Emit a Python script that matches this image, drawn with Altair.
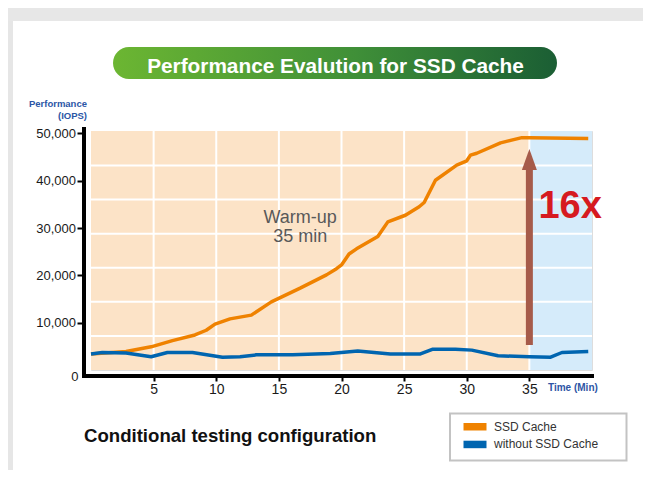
import altair as alt
import pandas as pd

# ---------------- data ----------------
ssd_time = [0, 2.8, 4.8, 6.5, 8.3, 9.2, 9.9, 11.1, 12.8, 14.4, 16.7, 18.8, 19.6, 20.0,
            20.6, 21.2, 22.9, 23.7, 25.1, 26.2, 26.6, 27.5, 29.2, 30.0, 30.3, 30.8,
            32.7, 34.4, 35.0, 39.7]
ssd_iops = [3400, 3900, 4900, 6200, 7400, 8400, 9700, 10800, 11600, 14400, 17300, 20100,
            21400, 22200, 24500, 25600, 28200, 31300, 32700, 34500, 35400, 40100, 43300,
            44200, 45400, 45800, 48000, 49100, 49100, 48900]

base_time = [0, 0.9, 2.8, 4.8, 6.1, 8.1, 10.5, 11.9, 13.2, 16.1, 19.1, 21.3, 23.9, 26.3,
             27.3, 29.1, 30.4, 32.5, 35.0, 36.7, 37.6, 39.7]
base_iops = [3400, 3700, 3600, 2800, 3700, 3700, 2700, 2800, 3200, 3200, 3500, 4000, 3400,
             3400, 4400, 4400, 4200, 3000, 2800, 2700, 3700, 3900]

series_names = ["SSD Cache", "without SSD Cache"]
series_colors = ["#ef8200", "#0065b0"]

phase_names = ["Warm-up", "Cached"]
phase_start = [0, 35]
phase_end = [35, 40]
phase_colors = ["#fce3c7", "#d5ebfa"]

x_ticks = [5, 10, 15, 20, 25, 30, 35]
y_ticks = [10000, 20000, 30000, 40000, 50000]
grid_y = [7200, 14400, 21600, 28800, 36000, 43200]
x_domain = [0, 40]
y_domain = [0, 50500]

arrow_time = [35]
arrow_from = [5300]
arrow_to = [46700]
arrow_color = "#a65b4a"

warm_time = [16.7]
warm_iops = [31000]
gain_time = [35]
gain_iops = [32100]

FONT = "Liberation Sans"

# ---------------- tables ----------------
lines_df = pd.concat([
    pd.DataFrame({"t": ssd_time, "v": ssd_iops, "series": series_names[0]}),
    pd.DataFrame({"t": base_time, "v": base_iops, "series": series_names[1]}),
], ignore_index=True)
phase_df = pd.DataFrame({"phase": phase_names, "t0": phase_start, "t1": phase_end,
                         "v0": [y_domain[0]] * 2, "v1": [y_domain[1]] * 2,
                         "col": phase_colors})
vgrid_df = pd.DataFrame({"t": x_ticks})
hgrid_df = pd.DataFrame({"v": grid_y})
arrow_df = pd.DataFrame({"t": arrow_time, "v0": arrow_from, "v1": arrow_to})
warm_df = pd.DataFrame({"t": warm_time, "v": warm_iops})
gain_df = pd.DataFrame({"t": gain_time, "v": gain_iops})
one = pd.DataFrame({"k": [0]})

xscale = alt.Scale(domain=x_domain, nice=False, zero=False)
yscale = alt.Scale(domain=y_domain, nice=False)
xaxis = alt.Axis(values=x_ticks, domain=False, grid=False, tickSize=5, tickWidth=2,
                 tickColor="black", labelFontSize=14, labelColor="#1a1a1a",
                 labelPadding=1, offset=6, title=None, labelFlush=False)
yaxis = alt.Axis(values=y_ticks, format=",.0f", domain=False, grid=False, tickSize=7,
                 tickWidth=2, tickColor="black", labelFontSize=13, labelColor="#1a1a1a",
                 labelPadding=1.5, offset=7, title=None)


def X(f):
    return alt.X(f, type="quantitative", scale=xscale, axis=xaxis)


def Y(f):
    return alt.Y(f, type="quantitative", scale=yscale, axis=yaxis)


# ---------------- decorations ----------------
top_band = alt.Chart(one).mark_rect(color="#e7e7e7").encode(
    x=alt.value(-83), x2=alt.value(552), y=alt.value(-123), y2=alt.value(-110))
left_band = alt.Chart(one).mark_rect(color="#e6e6e6").encode(
    x=alt.value(-83), x2=alt.value(-78), y=alt.value(-110), y2=alt.value(345))

pill = alt.Chart(one).mark_rect(
    cornerRadius=16,
    fill={"gradient": "linear", "x1": 0, "x2": 1, "y1": 0, "y2": 0,
          "stops": [{"offset": 0, "color": "#6cb632"},
                    {"offset": 0.55, "color": "#3f8f38"},
                    {"offset": 1, "color": "#1b5e34"}]},
).encode(x=alt.value(22), x2=alt.value(466), y=alt.value(-84), y2=alt.value(-52))
pill_text = alt.Chart(one).mark_text(
    text="Performance Evalution for SSD Cache", font=FONT, fontSize=20.8,
    fontWeight="bold", color="white", align="center", baseline="alphabetic",
).encode(x=alt.value(244.5), y=alt.value(-58.5))

perf1 = alt.Chart(one).mark_text(
    text="Performance", font=FONT, fontSize=9.5, fontWeight="bold", color="#2b56a6",
    align="right", baseline="middle").encode(x=alt.value(-4), y=alt.value(-27))
perf2 = alt.Chart(one).mark_text(
    text="(IOPS)", font=FONT, fontSize=9.5, fontWeight="bold", color="#2b56a6",
    align="right", baseline="middle").encode(x=alt.value(-4), y=alt.value(-15))

# ---------------- plot body ----------------
bg = alt.Chart(phase_df).mark_rect().encode(
    x=X("t0"), x2="t1", y=Y("v0"), y2="v1",
    color=alt.Color("col:N", scale=None))

vgrid = alt.Chart(vgrid_df).mark_rule(color="white", strokeWidth=2).encode(x=X("t"))
hgrid = alt.Chart(hgrid_df).mark_rule(color="white", strokeWidth=2).encode(y=Y("v"))

lines = alt.Chart(lines_df).mark_line(strokeWidth=3.5, strokeJoin="round").encode(
    x=X("t"), y=Y("v"),
    color=alt.Color("series:N", scale=alt.Scale(domain=series_names, range=series_colors),
                    legend=None),
    detail="series:N")

shaft = alt.Chart(arrow_df).mark_rule(strokeWidth=7, color=arrow_color, y2Offset=18).encode(
    x=X("t"), y=Y("v0"), y2="v1")
head = alt.Chart(arrow_df).mark_point(
    shape="M0,-1L0.714,1L-0.714,1Z", size=441, filled=True, opacity=1,
    color=arrow_color, strokeWidth=0, yOffset=10.5).encode(x=X("t"), y=Y("v1"))

gain = alt.Chart(gain_df).mark_text(
    text="16x", font=FONT, fontSize=38, fontWeight="bold", color="#d61a20",
    align="left", baseline="alphabetic", dx=9).encode(x=X("t"), y=Y("v"))

warm = alt.Chart(warm_df).mark_text(
    text=["Warm-up", "35 min"], font=FONT, fontSize=18, lineHeight=19, color="#595959",
    align="center", baseline="alphabetic").encode(x=X("t"), y=Y("v"))

# axis lines (L shape)
y_line = alt.Chart(one).mark_rule(color="black", strokeWidth=4).encode(
    x=alt.value(-7), y=alt.value(-4), y2=alt.value(247))
x_line = alt.Chart(one).mark_rule(color="black", strokeWidth=4).encode(
    x=alt.value(-9), x2=alt.value(503), y=alt.value(245))

zero_lbl = alt.Chart(one).mark_text(
    text="0", font=FONT, fontSize=13, color="#1a1a1a", align="right",
    baseline="middle").encode(x=alt.value(-12.5), y=alt.value(246))
time_lbl = alt.Chart(one).mark_text(
    text="Time (Min)", font=FONT, fontSize=10, fontWeight="bold", color="#2e55a5",
    align="left", baseline="middle").encode(x=alt.value(457), y=alt.value(257))

cond = alt.Chart(one).mark_text(
    text="Conditional testing configuration", font=FONT, fontSize=18.6, fontWeight="bold",
    color="#111111", align="left", baseline="alphabetic").encode(
    x=alt.value(-7), y=alt.value(310.5))

# legend
leg_box = alt.Chart(one).mark_rect(fill="white", stroke="#c3c3c3", strokeWidth=2).encode(
    x=alt.value(359), x2=alt.value(535.5), y=alt.value(282.5), y2=alt.value(329.5))
leg_sw1 = alt.Chart(one).mark_rect(color=series_colors[0]).encode(
    x=alt.value(372.5), x2=alt.value(395.5), y=alt.value(292), y2=alt.value(299.5))
leg_sw2 = alt.Chart(one).mark_rect(color=series_colors[1]).encode(
    x=alt.value(372.5), x2=alt.value(395.5), y=alt.value(309.7), y2=alt.value(317.2))
leg_t1 = alt.Chart(one).mark_text(
    text=series_names[0], font=FONT, fontSize=12, color="#333333", align="left",
    baseline="middle").encode(x=alt.value(403), y=alt.value(296.3))
leg_t2 = alt.Chart(one).mark_text(
    text=series_names[1], font=FONT, fontSize=12, color="#333333", align="left",
    baseline="middle").encode(x=alt.value(403), y=alt.value(313))

chart = alt.layer(
    top_band, left_band, pill, pill_text, perf1, perf2,
    bg, vgrid, hgrid, lines, shaft, head, gain, warm,
    y_line, x_line, zero_lbl, time_lbl, cond,
    leg_box, leg_sw1, leg_sw2, leg_t1, leg_t2,
).properties(
    width=501, height=239,
    autosize=alt.AutoSizeParams(type="none"),
    padding={"left": 83, "top": 123, "right": 51, "bottom": 100},
    background="white",
).configure_view(stroke=None).configure(font=FONT)

chart.save("out.html", embed_options={"renderer": "svg", "actions": False})
